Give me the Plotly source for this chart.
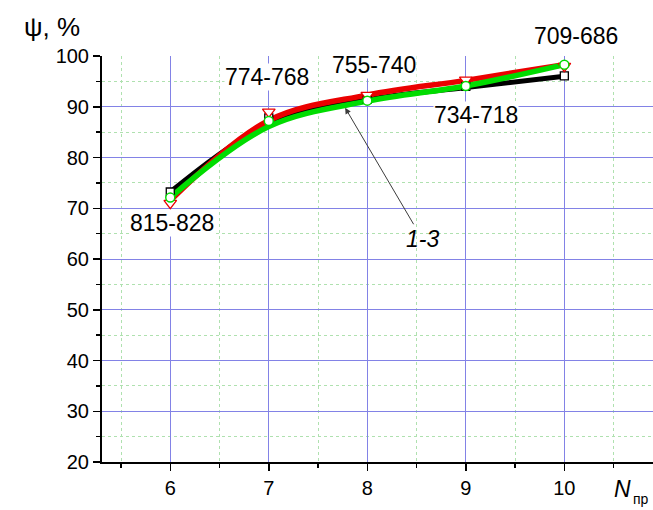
import plotly.graph_objects as go

# Data
n_pr = [6, 7, 8, 9, 10]
# measured points
psi_1 = [73.2, 87.8, 91.5, 94.0, 96.1]   # black squares
psi_2 = [71.0, 89.0, 92.3, 95.3, 98.0]   # red triangles
psi_3 = [72.1, 87.2, 91.2, 94.1, 98.3]   # green circles
# smoothed curves
fit_1 = [73.2, 86.6, 91.4, 93.8, 96.0]
fit_2 = [71.5, 87.3, 92.3, 95.2, 98.3]
fit_3 = [72.1, 86.1, 91.1, 94.1, 98.3]

point_labels = ["815-828", "774-768", "755-740", "734-718", "709-686"]
label_x = [6.02, 6.98, 8.07, 9.10, 10.12]
label_y = [67.0, 95.9, 98.3, 88.3, 103.9]

y_ticks = [20, 30, 40, 50, 60, 70, 80, 90, 100]
x_minor = [5.5, 6.5, 7.5, 8.5, 9.5, 10.5]
y_minor = [25, 35, 45, 55, 65, 75, 85, 95]

Y_MIN, Y_MAX = 20, 100
FONT = "Liberation Sans, Arial, sans-serif"

W, H = 653, 510
L, R, T, B = 102, 0, 56, 48
pw, ph = W - L - R, H - T - B


def px_to_paper(px, py):
    return (px - L) / pw, (H - B - py) / ph


fig = go.Figure()

curves = [(fit_1, "black", 5), (fit_2, "rgb(235,0,0)", 5.5), (fit_3, "rgb(0,220,0)", 5.5)]
for ys, col, w in curves:
    fig.add_trace(go.Scatter(x=n_pr, y=ys, mode="lines",
                             line=dict(color=col, width=w, shape="spline", smoothing=1.0),
                             showlegend=False, hoverinfo="skip"))

fig.add_trace(go.Scatter(x=n_pr, y=psi_1, mode="markers",
                         marker=dict(symbol="square", size=8, color="white",
                                     line=dict(color="black", width=1.3)),
                         showlegend=False))
fig.add_trace(go.Scatter(x=n_pr, y=psi_2, mode="markers",
                         marker=dict(symbol="triangle-down", size=11, color="white",
                                     line=dict(color="rgb(235,0,0)", width=1.3)),
                         showlegend=False))
fig.add_trace(go.Scatter(x=n_pr, y=psi_3, mode="markers",
                         marker=dict(symbol="circle", size=9, color="white",
                                     line=dict(color="rgb(0,220,0)", width=1.5)),
                         showlegend=False))

for t, x, y in zip(point_labels, label_x, label_y):
    fig.add_annotation(x=x, y=(y - Y_MIN) / (Y_MAX - Y_MIN), xref="x", yref="y domain",
                       xanchor="center", yanchor="middle",
                       text=t, showarrow=False, bgcolor="white", borderpad=0,
                       font=dict(family=FONT, size=23, color="black"))

fig.add_annotation(x=7.775, y=89.8, xref="x", yref="y", text="<i>1-3</i>",
                   showarrow=True, ax=77, ay=131, arrowhead=2, arrowsize=1.2,
                   arrowwidth=1, arrowcolor="rgb(60,60,60)",
                   font=dict(family=FONT, size=23, color="black"))

# axis titles
tx, ty = px_to_paper(52, 27)
fig.add_annotation(x=tx, y=ty, xref="paper", yref="paper", text="ψ, %",
                   xanchor="center", yanchor="middle", showarrow=False,
                   font=dict(family=FONT, size=26, color="black"))
nx, ny = px_to_paper(612, 489)
fig.add_annotation(text="<i>N</i>", showarrow=False,
                   font=dict(family=FONT, size=23, color="black"),
                   xref="paper", yref="paper", x=nx, y=ny,
                   xanchor="left", yanchor="middle")
sx, sy = px_to_paper(631, 499)
fig.add_annotation(text="пр", showarrow=False,
                   font=dict(family=FONT, size=14, color="black"),
                   xref="paper", yref="paper", x=sx, y=sy,
                   xanchor="left", yanchor="middle")

MINOR_GRID = "rgb(175,225,175)"
MAJOR_GRID = "rgb(130,130,230)"

fig.update_xaxes(range=[5.307, 10.9], tickvals=n_pr, ticks="outside", ticklen=7,
                 tickwidth=1.5, tickcolor="black", showline=True, linecolor="black",
                 linewidth=2, showgrid=True, gridcolor=MAJOR_GRID, gridwidth=1,
                 zeroline=False, showspikes=False,
                 tickfont=dict(family=FONT, size=20, color="black"),
                 minor=dict(tickvals=x_minor, ticks="outside", ticklen=4,
                            tickcolor="black", tickwidth=1.5, showgrid=True,
                            gridcolor=MINOR_GRID, griddash="dot", gridwidth=1))
fig.update_yaxes(range=[Y_MIN, Y_MAX], tickvals=y_ticks, ticks="outside", ticklen=7,
                 tickwidth=1.5, tickcolor="black", showline=True, linecolor="black",
                 linewidth=2, showgrid=True, gridcolor=MAJOR_GRID, gridwidth=1,
                 zeroline=False, showspikes=False,
                 tickfont=dict(family=FONT, size=20, color="black"),
                 minor=dict(tickvals=y_minor, ticks="outside", ticklen=4,
                            tickcolor="black", tickwidth=1.5, showgrid=True,
                            gridcolor=MINOR_GRID, griddash="dot", gridwidth=1))

fig.update_layout(width=W, height=H, margin=dict(l=L, r=R, t=T, b=B),
                  plot_bgcolor="white", paper_bgcolor="white", showlegend=False,
                  hovermode=False, font=dict(family=FONT))

fig.write_html("out.html", config={"staticPlot": True, "displayModeBar": False},
               post_script="document.body.style.margin='0';document.body.style.overflow='hidden';")
